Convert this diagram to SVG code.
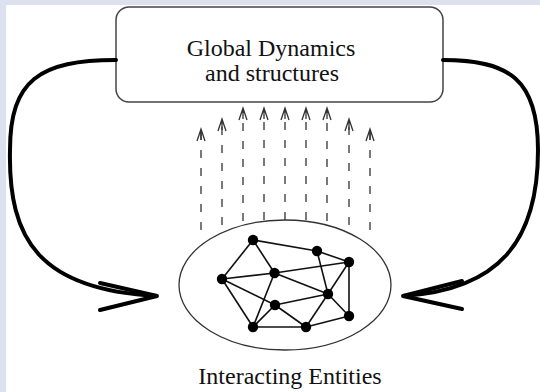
<svg xmlns="http://www.w3.org/2000/svg" width="540" height="392" viewBox="0 0 540 392">
<style>
.t{font-family:"Liberation Serif","Times New Roman",serif;font-size:24px;fill:#111;text-anchor:middle}
.box{fill:#fff;stroke:#444;stroke-width:1.5}
.ell{fill:none;stroke:#333;stroke-width:1.3}
.thick{fill:none;stroke:#000;stroke-width:4;stroke-linecap:round}
.dash{fill:none;stroke:#333;stroke-width:1.3;stroke-dasharray:8 10}
.head{fill:none;stroke:#333;stroke-width:1.3}
.edge{stroke:#111;stroke-width:1.6}
.node{fill:#000}
</style>
<rect x="0" y="0" width="540" height="392" fill="#dde0ee"/>
<rect x="6" y="5" width="534" height="387" fill="#fff"/>
<g id="global">
<rect class="box" x="116" y="7" width="327" height="95" rx="13"/>
<text class="t" x="271" y="56">Global Dynamics</text>
<text class="t" x="272" y="81">and structures</text>
</g>
<g id="connectors">
<path class="thick" d="M116,60 C40,60 10,80 10,150 C8,240 40,290 157,296"/>
<path class="thick" d="M100,283 L157,296 L100,310"/>
<path class="thick" d="M443,60 C510,60 538,80 538,150 C538,240 500,290 403,296"/>
<path class="thick" d="M462,281 L403,296 L462,309"/>
<path class="dash" d="M201,230 V131"/>
<path class="dash" d="M222,225 V121"/>
<path class="dash" d="M243,221 V110"/>
<path class="dash" d="M264,220 V110"/>
<path class="dash" d="M285,220 V110"/>
<path class="dash" d="M306,220 V110"/>
<path class="dash" d="M327,221 V110"/>
<path class="dash" d="M349,225 V121"/>
<path class="dash" d="M370,230 V131"/>
<path class="head" d="M197,141 L201,129 L205,141 M201,129 V140"/>
<path class="head" d="M218,131 L222,119 L226,131 M222,119 V130"/>
<path class="head" d="M239,120 L243,108 L247,120 M243,108 V119"/>
<path class="head" d="M260,120 L264,108 L268,120 M264,108 V119"/>
<path class="head" d="M281,120 L285,108 L289,120 M285,108 V119"/>
<path class="head" d="M302,120 L306,108 L310,120 M306,108 V119"/>
<path class="head" d="M323,120 L327,108 L331,120 M327,108 V119"/>
<path class="head" d="M345,131 L349,119 L353,131 M349,119 V130"/>
<path class="head" d="M366,141 L370,129 L374,141 M370,129 V140"/>
</g>
<g id="entities">
<ellipse class="ell" cx="285" cy="285" rx="106" ry="65"/>
<g class="edge">
<line x1="253" y1="240" x2="317" y2="251"/>
<line x1="253" y1="240" x2="222" y2="279"/>
<line x1="253" y1="240" x2="274.5" y2="273"/>
<line x1="317" y1="251" x2="349" y2="262"/>
<line x1="317" y1="251" x2="328" y2="294"/>
<line x1="274.5" y1="273" x2="349" y2="262"/>
<line x1="349" y1="262" x2="328" y2="294"/>
<line x1="349" y1="262" x2="349" y2="316"/>
<line x1="222" y1="279" x2="274.5" y2="273"/>
<line x1="222" y1="279" x2="275" y2="305"/>
<line x1="222" y1="279" x2="253" y2="327"/>
<line x1="274.5" y1="273" x2="328" y2="294"/>
<line x1="274.5" y1="273" x2="253" y2="327"/>
<line x1="328" y1="294" x2="275" y2="305"/>
<line x1="328" y1="294" x2="349" y2="316"/>
<line x1="328" y1="294" x2="306" y2="327"/>
<line x1="275" y1="305" x2="253" y2="327"/>
<line x1="275" y1="305" x2="306" y2="327"/>
<line x1="253" y1="327" x2="306" y2="327"/>
<line x1="306" y1="327" x2="349" y2="316"/>
</g>
<g class="node">
<circle cx="253" cy="240" r="5.2"/>
<circle cx="317" cy="251" r="5.2"/>
<circle cx="349" cy="262" r="5.2"/>
<circle cx="222" cy="279" r="5.2"/>
<circle cx="274.5" cy="273" r="5.2"/>
<circle cx="328" cy="294" r="5.2"/>
<circle cx="275" cy="305" r="5.2"/>
<circle cx="349" cy="316" r="5.2"/>
<circle cx="253" cy="327" r="5.2"/>
<circle cx="306" cy="327" r="5.2"/>
</g>
<text class="t" x="290" y="384">Interacting Entities</text>
</g>
</svg>
